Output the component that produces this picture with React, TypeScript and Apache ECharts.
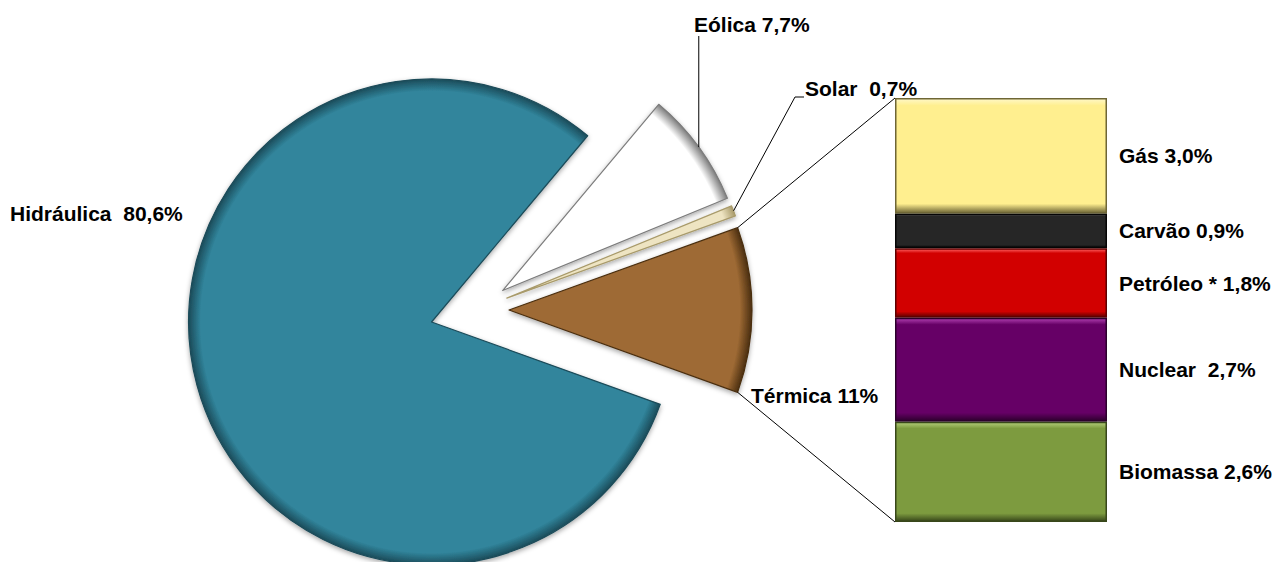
import { useEffect, useRef } from 'react';
import * as echarts from 'echarts';

// ---- data ----
const pieNames = ['Hidráulica', 'Eólica', 'Solar', 'Térmica'];
const pieValues = [80.6, 7.7, 0.7, 11];
const pieDecimals = [1, 1, 1, 0];
const pieSeparators = ['  ', ' ', '  ', ' '];

const barCategory = ['Térmica'];
const barNames = ['Gás', 'Carvão', 'Petróleo *', 'Nuclear ', 'Biomassa'];
const barValues = [3.0, 0.9, 1.8, 2.7, 2.6];

// ---- styles ----
const pieColors = ['#31859C', '#FFFFFF', '#EEE4C2', '#9E6A34'];
const pieRims = ['#1b4b59', '#7c7c7c', '#a89a6a', '#4a2e10'];
const barColors = ['#FFEF8F', '#262626', '#D20000', '#660066', '#7D9B3F'];
const barLights = ['#FFF8C8', '#6a6a6a', '#FF6060', '#B040B0', '#B2CC78'];
const barRims = ['#6e6636', '#050505', '#5e0000', '#2c002c', '#38471a'];

const W = 1272;
const H = 562;
const CX = 476;
const CY = 310;
const R = 243;
const START = -19.8;
const OFFSET_MAIN = 46;
const OFFSET_SMALL = 33;
const BAR = { left: 895, top: 98, width: 212, height: 424 };
const FONT = "'Liberation Sans', Arial, sans-serif";
const FONT_SIZE = 21;

const pieLabelPos = [
  { x: 10, y: 213 },
  { x: 694, y: 24 },
  { x: 805, y: 88 },
  { x: 751, y: 395 },
];

const fmt = (v: number, d: number) => v.toFixed(d).replace('.', ',');

function sliceGeometry() {
  const total = pieValues.reduce((a, b) => a + b, 0);
  let cum = 0;
  return pieValues.map((v, i) => {
    const a0 = START - (cum / total) * 360;
    cum += v;
    const a1 = START - (cum / total) * 360;
    const mid = (a0 + a1) / 2;
    const off = i === 0 ? OFFSET_MAIN : OFFSET_SMALL;
    const rad = (mid * Math.PI) / 180;
    const cx = CX + off * Math.cos(rad);
    const cy = CY - off * Math.sin(rad);
    const pt = (deg: number, r: number = R) => {
      const t = (deg * Math.PI) / 180;
      return [cx + r * Math.cos(t), cy - r * Math.sin(t)];
    };
    return { a0, a1, mid, cx, cy, pt };
  });
}

function pieItemStyle(i: number) {
  return {
    color: new echarts.graphic.RadialGradient(
      CX,
      CY,
      R,
      [
        { offset: 0, color: pieColors[i] },
        { offset: 0.95, color: pieColors[i] },
        { offset: 1, color: pieRims[i] },
      ],
      true
    ),
    borderColor: pieRims[i],
    borderWidth: 1.2,
    shadowBlur: 5,
    shadowColor: 'rgba(0,0,0,0.35)',
    shadowOffsetY: 2,
  };
}

function buildPieSeries(visible: number[], offset: number) {
  return {
    type: 'pie',
    center: [CX, CY],
    radius: [0, R],
    startAngle: START,
    clockwise: true,
    selectedMode: 'multiple',
    selectedOffset: offset,
    avoidLabelOverlap: false,
    minAngle: 0,
    emphasis: { disabled: true },
    silent: true,
    label: { show: false },
    labelLine: { show: false },
    data: pieNames.map((name, i) => {
      const show = visible.includes(i);
      const style = show
        ? pieItemStyle(i)
        : { color: 'rgba(0,0,0,0)', borderWidth: 0, shadowBlur: 0 };
      return {
        name,
        value: pieValues[i],
        selected: show,
        itemStyle: style,
        select: { itemStyle: style },
      };
    }),
  };
}

export default function App() {
  const ref = useRef<HTMLDivElement>(null);
  useEffect(() => {
    document.body.style.margin = '0';
    if (!ref.current) return;
    const chart = echarts.init(ref.current, null, { renderer: 'svg' });
    const geo = sliceGeometry();
    const barTotal = barValues.reduce((a, b) => a + b, 0);

    const term = geo[3];
    const tTop = term.pt(term.a0);
    const tBot = term.pt(term.a1);
    const eol = geo[1];
    const eP = eol.pt(eol.mid);
    const sol = geo[2];
    const sP = sol.pt(sol.mid);

    const lineStyle = { stroke: '#000', lineWidth: 1, fill: null };

    const barSeries = barNames.map((name, i) => ({
      type: 'bar',
      name,
      stack: 'termica',
      barWidth: '100%',
      silent: true,
      data: [barValues[i]],
      itemStyle: {
        color: new echarts.graphic.LinearGradient(0, 0, 0, 1, [
          { offset: 0, color: barLights[i] },
          { offset: 0.06, color: barColors[i] },
          { offset: 0.92, color: barColors[i] },
          { offset: 1, color: barRims[i] },
        ]),
        borderColor: barRims[i],
        borderWidth: 1.5,
      },
      label: {
        show: true,
        position: 'right',
        distance: 12,
        formatter: () => `${name} ${fmt(barValues[i], 1)}%`,
        fontFamily: FONT,
        fontSize: FONT_SIZE,
        fontWeight: 'bold',
        color: '#000',
      },
    }));

    const pieTexts = pieNames.map((name, i) => ({
      type: 'text',
      z: 100,
      x: pieLabelPos[i].x,
      y: pieLabelPos[i].y,
      style: {
        text: `${name}${pieSeparators[i]}${fmt(pieValues[i], pieDecimals[i])}%`,
        fontFamily: FONT,
        fontSize: FONT_SIZE,
        fontWeight: 'bold',
        fill: '#000',
        align: 'left',
        verticalAlign: 'middle',
      },
    }));

    chart.setOption({
      animation: false,
      backgroundColor: '#fff',
      grid: { left: BAR.left, top: BAR.top, width: BAR.width, height: BAR.height, containLabel: false },
      xAxis: { type: 'category', data: barCategory, show: false },
      yAxis: { type: 'value', min: 0, max: barTotal, inverse: true, show: false },
      series: [
        buildPieSeries([0], OFFSET_MAIN),
        buildPieSeries([1, 2, 3], OFFSET_SMALL),
        ...barSeries,
      ],
      graphic: [
        { type: 'line', z: 100, shape: { x1: tTop[0], y1: tTop[1], x2: BAR.left, y2: BAR.top }, style: lineStyle },
        { type: 'line', z: 100, shape: { x1: tBot[0], y1: tBot[1], x2: BAR.left, y2: BAR.top + BAR.height }, style: lineStyle },
        { type: 'polyline', z: 100, shape: { points: [eP, [eP[0], 36]] }, style: lineStyle },
        { type: 'polyline', z: 100, shape: { points: [sP, [795, 97], [804, 97]] }, style: lineStyle },
        ...pieTexts,
      ],
    });
    return () => chart.dispose();
  }, []);
  return <div ref={ref} style={{ width: W, height: H }} />;
}
